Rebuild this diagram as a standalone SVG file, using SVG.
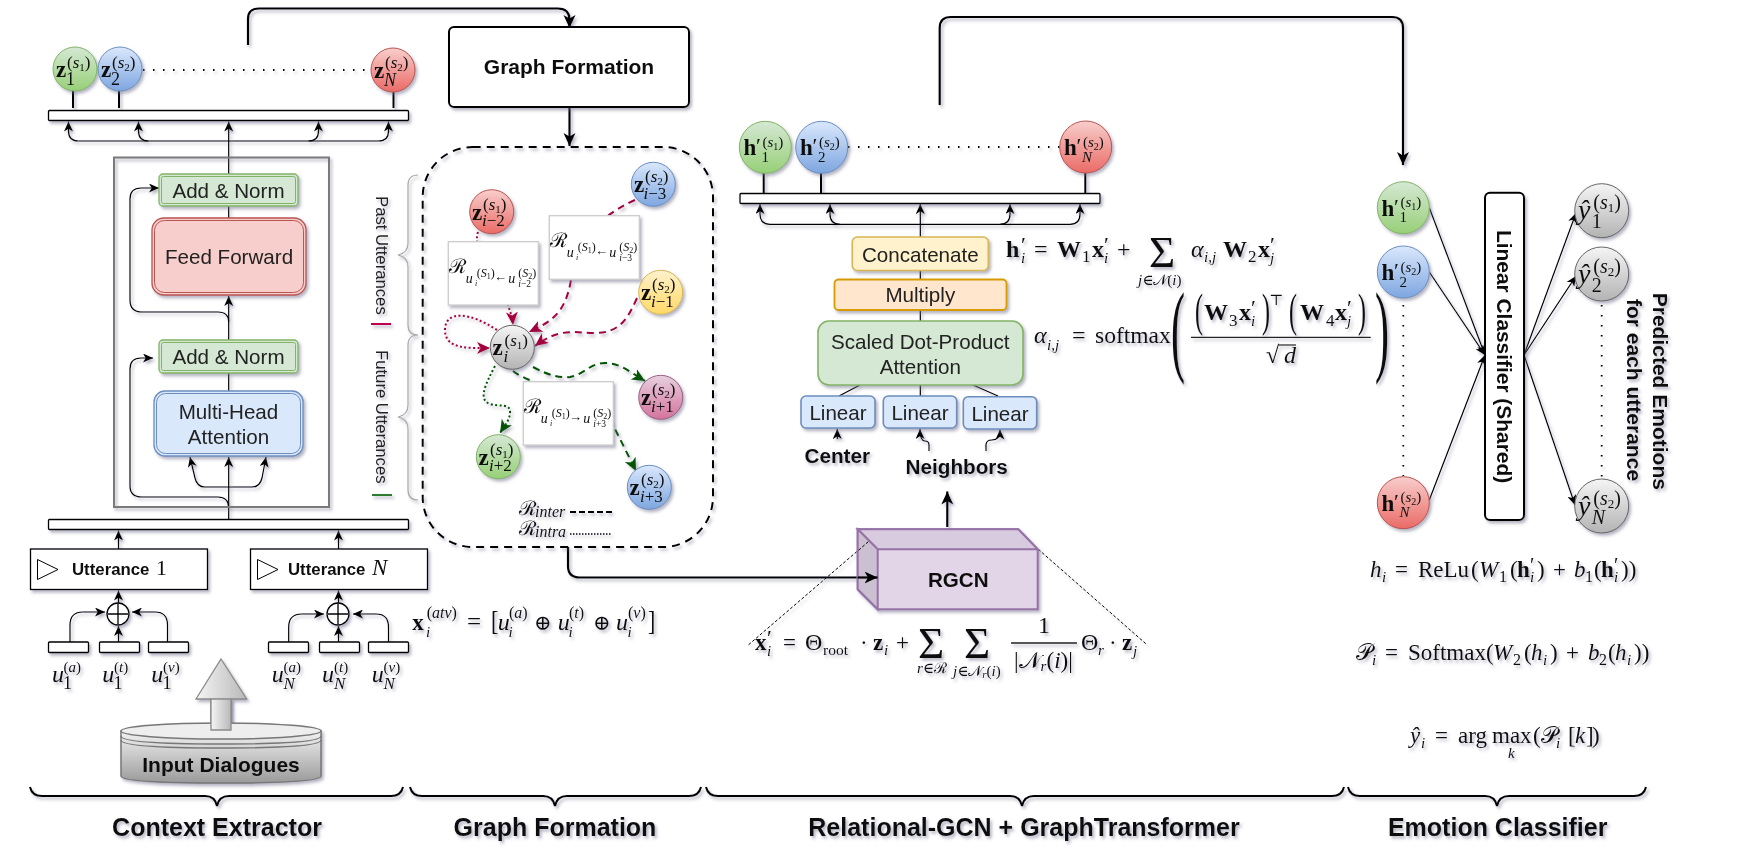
<svg xmlns="http://www.w3.org/2000/svg" width="1752" height="854" viewBox="0 0 1752 854">
<style>
text{font-family:"Liberation Serif","DejaVu Serif",serif;fill:#111}
.s{font-family:"Liberation Sans",Arial,sans-serif;font-size:20.6px;text-anchor:middle;fill:#222}
.sv{font-family:"Liberation Sans",Arial,sans-serif;font-size:16.7px;fill:#222}
.bs{font-family:"Liberation Sans",Arial,sans-serif;font-weight:bold;fill:#111}
.i{font-style:italic}.b{font-weight:bold}
.sh{filter:url(#sh)}
.thin{fill:none;stroke:#000;stroke-width:1.2}
.stub{fill:none;stroke:#000;stroke-width:2}
.fine{fill:none;stroke:#000;stroke-width:1;stroke-dasharray:3 2}
.a{marker-end:url(#ar)}
.thick{fill:none;stroke:#000;stroke-width:2.2;marker-end:url(#arb)}
.bar{fill:#fff;stroke:#000;stroke-width:1.3}
.dot{fill:none;stroke:#000;stroke-width:1.8;stroke-dasharray:1.5 8.5}
.red{fill:none;stroke:#a50040;stroke-width:2;marker-end:url(#arr)}
.grn{fill:none;stroke:#005700;stroke-width:2;marker-end:url(#arg)}
.da{stroke-dasharray:7 5}.do{stroke-dasharray:2 2.4}
.rb{fill:#fff;stroke:#ccc;stroke-width:1.3}
.brace{fill:none;stroke:#000;stroke-width:2}
.gb{fill:none;stroke:#aaa;stroke-width:1.2}
</style>
<defs>
<filter id="sh" filterUnits="userSpaceOnUse" x="0" y="0" width="1752" height="854"><feDropShadow dx="2" dy="2.5" stdDeviation="1.6" flood-color="#6a6a88" flood-opacity=".5"/></filter>
<marker id="ar" markerUnits="userSpaceOnUse" markerWidth="11" markerHeight="9" refX="10" refY="4.500" orient="auto"><path d="M0 0L10 4.500L0 9L2.700 4.500z" fill="#000"/></marker>
<marker id="arb" markerUnits="userSpaceOnUse" markerWidth="14" markerHeight="14" refX="13" refY="6" orient="auto"><path d="M0 0L13 6L0 12L3.500 6z" fill="#000"/></marker>
<marker id="arr" markerUnits="userSpaceOnUse" markerWidth="14" markerHeight="14" refX="13" refY="6" orient="auto"><path d="M0 0L13 6L0 12L3.500 6z" fill="#a50040"/></marker>
<marker id="arg" markerUnits="userSpaceOnUse" markerWidth="14" markerHeight="14" refX="13" refY="6" orient="auto"><path d="M0 0L13 6L0 12L3.500 6z" fill="#005700"/></marker>
<linearGradient id="gG" x1="0" y1="0" x2="0" y2="1"><stop offset="0" stop-color="#d5e8d4"/><stop offset="1" stop-color="#97d077"/></linearGradient>
<linearGradient id="gB" x1="0" y1="0" x2="0" y2="1"><stop offset="0" stop-color="#dae8fc"/><stop offset="1" stop-color="#7ea6e0"/></linearGradient>
<linearGradient id="gR" x1="0" y1="0" x2="0" y2="1"><stop offset="0" stop-color="#f8cecc"/><stop offset="1" stop-color="#ea6b66"/></linearGradient>
<linearGradient id="gY" x1="0" y1="0" x2="0" y2="1"><stop offset="0" stop-color="#fff2cc"/><stop offset="1" stop-color="#ffd966"/></linearGradient>
<linearGradient id="gP" x1="0" y1="0" x2="0" y2="1"><stop offset="0" stop-color="#e6d0de"/><stop offset="1" stop-color="#d5739d"/></linearGradient>
<linearGradient id="gK" x1="0" y1="0" x2="0" y2="1"><stop offset="0" stop-color="#f5f5f5"/><stop offset="1" stop-color="#b3b3b3"/></linearGradient>
<linearGradient id="gA" x1="0" y1="0" x2="1" y2="0"><stop offset="0" stop-color="#f5f5f5"/><stop offset="1" stop-color="#b8b8b8"/></linearGradient>
<linearGradient id="gC" x1="0" y1="0" x2="0" y2="1"><stop offset="0" stop-color="#f2f2f2"/><stop offset="1" stop-color="#9a9a9a"/></linearGradient>
</defs>

<g id="connectors" class="sh">
<path class="thick" d="M248 45V19Q248 8.500 259 8.500H558Q569.500 8.500 569.500 20V28"/>
<path class="thick" d="M569.500 107V146"/>
<path class="thick" d="M568 547V566Q568 577.500 580 577.500H877.500"/>
<path class="thick" d="M947.300 527V491.500"/>
<path class="thick" d="M939.700 105V28Q939.700 17 951 17H1392Q1403 17 1403 28V165"/>
<path class="stub" d="M73 88V108M119 88V108M393.500 92V108"/>
<path class="thin" d="M228.700 206V218"/>
<path class="thin a" d="M78.500 141Q68.500 141 68.500 131V121.500"/>
<path class="thin a" d="M148.500 141Q138.500 141 138.500 131V121.500"/>
<path class="thin a" d="M308.500 141Q318.500 141 318.500 131V121.500"/>
<path class="thin a" d="M78.500 141H378.500Q388.500 141 388.500 131V121.500"/>
<path class="thin a" d="M228.700 174V121.500"/>
<path class="thin a" d="M228.700 340V296"/>
<path class="thin a" d="M228.700 322Q228.700 312 218 312H142Q130 312 130 300V199Q130 188 141 188H159"/>
<path class="thin a" d="M228.700 508Q228.700 497 218 497H142Q130 497 130 486V369Q130 358 141 358H153"/>
<path class="thin" d="M228.700 373V391"/>
<path class="thin a" d="M228.700 519V457"/>
<path class="thin a" d="M228.700 487H205Q197 487 195 478L190 457"/>
<path class="thin a" d="M228.700 487H252Q260 487 262 478L266 457"/>
<path class="thin a" d="M118.500 549V530.500"/>
<path class="thin a" d="M338.500 549V530.500"/>
<path class="thin a" d="M118.500 603V590.500"/>
<path class="thin a" d="M338.500 603V590.500"/>
<path class="thin a" d="M70 642V625Q70 612 83 612H105"/>
<path class="thin a" d="M167.500 642V625Q167.500 612 155 612H132"/>
<path class="thin a" d="M118.500 642V626"/>
<path class="thin a" d="M288.700 642V627Q288.700 614 302 614H324"/>
<path class="thin a" d="M388.500 642V627Q388.500 614 376 614H353"/>
<path class="thin a" d="M338.500 642V626"/>
<path class="stub" d="M763.700 173V194M821 173V194M1085.300 172V194"/>
<path class="thin a" d="M770 224.300Q760 224.300 760 214V204"/>
<path class="thin a" d="M840 224.300Q830 224.300 830 214V204"/>
<path class="thin a" d="M1000 224.300Q1010 224.300 1010 214V204"/>
<path class="thin a" d="M770 224.300H1070Q1080 224.300 1080 214V204"/>
<path class="thin a" d="M920.300 237V204"/>
<path class="thin" d="M920.300 270V280M920.300 310V321M920.300 385V396M860 385L839 396M973 385L998 396"/>
<path class="thin a" d="M837.300 439V429"/>
<path class="thin a" d="M929 451V445Q929 441 925 441Q920 441 920 429"/>
<path class="thin a" d="M986 451V445Q986 440 992 440Q1000 440 1000 429.500"/>
<path class="fine" d="M868.300 541.700L748.300 645M1038.300 549.300L1147.300 645"/>
<path class="thin a" d="M1429.300 207.700L1485 355"/>
<path class="thin a" d="M1429.300 272L1485 355"/>
<path class="thin a" d="M1429.300 500L1485 355"/>
<path class="thin a" d="M1524 355L1576 213"/>
<path class="thin a" d="M1524 355L1576 276"/>
<path class="thin a" d="M1524 355L1575 505"/>
<path class="dot" d="M143 70H371"/>
<path class="dot" d="M848 147H1060"/>
<path class="dot" d="M1403.300 305V476"/>
<path class="dot" d="M1601.700 305V478"/>
<path class="red do" d="M478 232C470 255 510 290 513 325"/>
<path class="red da" d="M635 200C590 220 575 250 571 280C565 315 550 322 529 332"/>
<path class="red da" d="M637 298C628 318 620 333 595 333C575 333 560 327 535 346"/>
<path class="red do" d="M497 330C470 312 445 310 445 330C445 350 470 348 490 348"/>
<path class="grn da" d="M533 367C550 376 560 378 570 377C585 374 590 363 605 363C620 363 630 372 645 381"/>
<path class="grn do" d="M495 366C485 385 478 400 490 404C500 407 510 403 510 412C510 420 505 425 500 433"/>
<path class="grn da" d="M513 371C530 385 600 400 613 425L636 471"/>
<path fill="none" stroke="#000" stroke-width="1.800" stroke-dasharray="6 3" d="M570 512H612"/>
<path fill="none" stroke="#000" stroke-width="1.400" stroke-dasharray="1.500 1.500" d="M570 534H612"/>
</g>

<g id="transformer-frame" class="sh"><rect x="114" y="157.500" width="215" height="349.500" fill="none" stroke="#7a7a7a" stroke-width="2"/></g>

<g id="output-bar" class="sh"><rect class="bar" x="48.500" y="110.500" width="360" height="10" rx="1"/></g>
<g id="input-bar" class="sh"><rect class="bar" x="48.500" y="519.500" width="360" height="10" rx="1"/></g>
<g id="gcn-bar" class="sh"><rect class="bar" x="740" y="193.500" width="360" height="10" rx="1"/></g>

<g id="z1" class="sh"><circle cx="75" cy="69" r="22" fill="url(#gG)" stroke="#82b366"/><text x="56" y="77" font-size="23" class="b">z</text><text x="67" y="68" font-size="17">(<tspan class="i">s</tspan><tspan font-size="11" dy="3">1</tspan><tspan dy="-3">)</tspan></text><text x="66" y="85" font-size="18">1</text></g>
<g id="z2" class="sh"><circle cx="120" cy="69" r="22" fill="url(#gB)" stroke="#6c8ebf"/><text x="101" y="77" font-size="23" class="b">z</text><text x="112" y="68" font-size="17">(<tspan class="i">s</tspan><tspan font-size="11" dy="3">2</tspan><tspan dy="-3">)</tspan></text><text x="111" y="85" font-size="18">2</text></g>
<g id="zN" class="sh"><circle cx="393" cy="70" r="22" fill="url(#gR)" stroke="#b85450"/><text x="374" y="78" font-size="23" class="b">z</text><text x="385" y="68" font-size="17">(<tspan class="i">s</tspan><tspan font-size="11" dy="3">2</tspan><tspan dy="-3">)</tspan></text><text x="384" y="86" font-size="18" class="i">N</text></g>

<g id="add-norm-2" class="sh"><rect x="159" y="174" width="139" height="32" rx="4" fill="#d5e8d4" stroke="#82b366" stroke-width="1.300"/><rect x="161.500" y="176.500" width="134" height="27" rx="2" fill="none" stroke="#82b366"/><text class="s" x="228.500" y="198">Add &amp; Norm</text></g>
<g id="feed-forward" class="sh"><rect x="152" y="218" width="154" height="77" rx="12" fill="#f8cecc" stroke="#b85450" stroke-width="1.300"/><rect x="154.500" y="220.500" width="149" height="72" rx="10" fill="none" stroke="#b85450"/><text class="s" x="229" y="264">Feed Forward</text></g>
<g id="add-norm-1" class="sh"><rect x="159" y="340" width="139" height="33" rx="4" fill="#d5e8d4" stroke="#82b366" stroke-width="1.300"/><rect x="161.500" y="342.500" width="134" height="28" rx="2" fill="none" stroke="#82b366"/><text class="s" x="228.500" y="364">Add &amp; Norm</text></g>
<g id="multi-head" class="sh"><rect x="154" y="391" width="149" height="65" rx="11" fill="#dae8fc" stroke="#6c8ebf" stroke-width="1.300"/><rect x="156.500" y="393.500" width="144" height="60" rx="9" fill="none" stroke="#6c8ebf"/><text class="s" x="228.500" y="419">Multi-Head</text><text class="s" x="228.500" y="444">Attention</text></g>

<g id="utterance-1" class="sh"><rect x="30.500" y="549" width="177" height="40.500" fill="#fff" stroke="#000" stroke-width="1.300"/><path d="M37.500 559.500V579.500L58 569.500z" fill="#fff" stroke="#000"/><text class="bs" x="72" y="575" font-size="16.800">Utterance</text><text x="156" y="575" font-size="22">1</text></g>
<g id="utterance-N" class="sh"><rect x="250.500" y="549" width="177" height="40.500" fill="#fff" stroke="#000" stroke-width="1.300"/><path d="M257.500 559.500V579.500L278 569.500z" fill="#fff" stroke="#000"/><text class="bs" x="288" y="575" font-size="16.800">Utterance</text><text x="372" y="575" font-size="23" class="i">N</text></g>
<g id="oplus-1" class="sh"><circle cx="118" cy="614" r="11" fill="#fff" stroke="#000" stroke-width="1.300"/><path d="M118 604V624M108 614H128" stroke="#000" stroke-width="1.300"/></g>
<g id="oplus-N" class="sh"><circle cx="338" cy="614" r="11" fill="#fff" stroke="#000" stroke-width="1.300"/><path d="M338 604V624M328 614H348" stroke="#000" stroke-width="1.300"/></g>

<g id="u-inputs-1" class="sh">
<rect class="bar" x="48.500" y="642" width="40" height="10.500" rx="1"/><rect class="bar" x="99.500" y="642" width="40" height="10.500" rx="1"/><rect class="bar" x="148.500" y="642" width="40" height="10.500" rx="1"/>
<text x="52" y="682" font-size="24" class="i">u</text><text x="63.500" y="671.500" font-size="15">(<tspan class="i">a</tspan>)</text><text x="63" y="689" font-size="18">1</text>
<text x="102.300" y="682" font-size="24" class="i">u</text><text x="114" y="671.500" font-size="15">(<tspan class="i">t</tspan>)</text><text x="113.500" y="689" font-size="18">1</text>
<text x="151.300" y="682" font-size="24" class="i">u</text><text x="163" y="671.500" font-size="15">(<tspan class="i">v</tspan>)</text><text x="162.500" y="689" font-size="18">1</text>
</g>
<g id="u-inputs-N" class="sh">
<rect class="bar" x="268.500" y="642" width="40" height="10.500" rx="1"/><rect class="bar" x="319.500" y="642" width="40" height="10.500" rx="1"/><rect class="bar" x="368.500" y="642" width="40" height="10.500" rx="1"/>
<text x="271.700" y="682" font-size="24" class="i">u</text><text x="283.500" y="671.500" font-size="15">(<tspan class="i">a</tspan>)</text><text x="283.500" y="689" font-size="17" class="i">N</text>
<text x="322" y="682" font-size="24" class="i">u</text><text x="334" y="671.500" font-size="15">(<tspan class="i">t</tspan>)</text><text x="334" y="689" font-size="17" class="i">N</text>
<text x="371.700" y="682" font-size="24" class="i">u</text><text x="383.500" y="671.500" font-size="15">(<tspan class="i">v</tspan>)</text><text x="383.500" y="689" font-size="17" class="i">N</text>
</g>
<g id="eq-concat" class="sh">
<text x="412.300" y="630" font-size="23" class="b">x</text><text x="426.700" y="618.300" font-size="16">(<tspan class="i">atv</tspan>)</text><text x="426" y="637" font-size="15" class="i">i</text>
<text x="467" y="630" font-size="25">=</text><text transform="translate(491,630) scale(1,1.250)" font-size="22">[</text><text x="497.700" y="630" font-size="24" class="i">u</text><text x="509" y="618.300" font-size="16">(<tspan class="i">a</tspan>)</text><text x="508.500" y="637" font-size="15" class="i">i</text>
<text x="534" y="630" font-size="21">⊕</text><text x="557.700" y="630" font-size="24" class="i">u</text><text x="569" y="618.300" font-size="16">(<tspan class="i">t</tspan>)</text><text x="568.500" y="637" font-size="15" class="i">i</text>
<text x="593" y="630" font-size="21">⊕</text><text x="616" y="630" font-size="24" class="i">u</text><text x="628" y="618.300" font-size="16">(<tspan class="i">v</tspan>)</text><text x="627.500" y="637" font-size="15" class="i">i</text>
<text transform="translate(648,630) scale(1,1.250)" font-size="22">]</text>
</g>

<g id="input-arrow" class="sh"><path d="M221 659L246.700 699H231V730H211V699H196z" fill="url(#gA)" stroke="#8a8a8a" stroke-width="1.300"/></g>
<g id="input-dialogues" class="sh">
<path d="M121 731V776Q121 783 221 783Q321 783 321 776V731z" fill="url(#gC)" stroke="#777" stroke-width="1.500"/>
<path d="M121 736Q121 744 221 744Q321 744 321 736M121 740Q121 748 221 748Q321 748 321 740" fill="none" stroke="#777" stroke-width="1.500"/>
<ellipse cx="221" cy="731" rx="100" ry="8" fill="#eee" stroke="#777" stroke-width="1.500"/>
<path d="M211 699V730H231V699z" fill="url(#gA)" stroke="#8a8a8a" stroke-width="1.300"/>
<text class="bs" x="221" y="771.500" font-size="21" text-anchor="middle">Input Dialogues</text>
</g>

<g id="graph-formation" class="sh"><rect x="449" y="27" width="240" height="80" rx="5" fill="#fff" stroke="#000" stroke-width="2"/><text class="bs" x="569" y="74" font-size="21" text-anchor="middle">Graph Formation</text></g>
<g id="graph-frame" class="sh"><rect x="422.700" y="147" width="290.300" height="400" rx="50" fill="none" stroke="#000" stroke-width="2" stroke-dasharray="8 6"/></g>
<g id="past-future" class="sh">
<path class="gb" d="M418 175Q408 175 408 185V243Q408 253 398 255Q408 257 408 267V325Q408 335 418 335Q408 335 408 345V405Q408 415 398 417Q408 419 408 429V490Q408 500 418 500"/>
<text class="sv" transform="translate(375.500,196) rotate(90)">Past Utterances</text>
<text class="sv" transform="translate(375.500,350) rotate(90)">Future Utterances</text>
<path d="M371 324H391" stroke="#c0004d" stroke-width="2"/><path d="M372 495H392" stroke="#2d7d2d" stroke-width="2"/>
</g>

<g id="z-i-3" class="sh"><circle cx="653.300" cy="184.300" r="22" fill="url(#gB)" stroke="#6c8ebf"/><text x="634" y="192" font-size="23" class="b">z</text><text x="645" y="182" font-size="17">(<tspan class="i">s</tspan><tspan font-size="11" dy="3">2</tspan><tspan dy="-3">)</tspan></text><text x="643.500" y="198.500" font-size="17"><tspan class="i">i</tspan>−3</text></g>
<g id="z-i-2" class="sh"><circle cx="491.700" cy="211.700" r="22" fill="url(#gR)" stroke="#b85450"/><text x="472" y="219.500" font-size="23" class="b">z</text><text x="483" y="209.500" font-size="17">(<tspan class="i">s</tspan><tspan font-size="11" dy="3">1</tspan><tspan dy="-3">)</tspan></text><text x="482" y="226" font-size="17"><tspan class="i">i</tspan>−2</text></g>
<g id="z-i-1" class="sh"><circle cx="660.700" cy="292.300" r="22" fill="url(#gY)" stroke="#d6b656"/><text x="641" y="300" font-size="23" class="b">z</text><text x="652" y="290" font-size="17">(<tspan class="i">s</tspan><tspan font-size="11" dy="3">2</tspan><tspan dy="-3">)</tspan></text><text x="651" y="306.500" font-size="17"><tspan class="i">i</tspan>−1</text></g>
<g id="z-i" class="sh"><circle cx="512.300" cy="347.300" r="22" fill="url(#gK)" stroke="#666"/><text x="492.500" y="355" font-size="23" class="b">z</text><text x="504.500" y="346" font-size="17">(<tspan class="i">s</tspan><tspan font-size="11" dy="3">1</tspan><tspan dy="-3">)</tspan></text><text x="503.500" y="361.500" font-size="17" class="i">i</text></g>
<g id="z-i+1" class="sh"><circle cx="660.700" cy="397.300" r="22" fill="url(#gP)" stroke="#996185"/><text x="641" y="405" font-size="23" class="b">z</text><text x="652" y="395" font-size="17">(<tspan class="i">s</tspan><tspan font-size="11" dy="3">2</tspan><tspan dy="-3">)</tspan></text><text x="651" y="411.500" font-size="17"><tspan class="i">i</tspan>+1</text></g>
<g id="z-i+2" class="sh"><circle cx="498.300" cy="456.700" r="22" fill="url(#gG)" stroke="#82b366"/><text x="478.500" y="464.500" font-size="23" class="b">z</text><text x="490" y="454.500" font-size="17">(<tspan class="i">s</tspan><tspan font-size="11" dy="3">1</tspan><tspan dy="-3">)</tspan></text><text x="489" y="471" font-size="17"><tspan class="i">i</tspan>+2</text></g>
<g id="z-i+3" class="sh"><circle cx="649.300" cy="487.300" r="22" fill="url(#gB)" stroke="#6c8ebf"/><text x="629.500" y="495" font-size="23" class="b">z</text><text x="641" y="485" font-size="17">(<tspan class="i">s</tspan><tspan font-size="11" dy="3">2</tspan><tspan dy="-3">)</tspan></text><text x="640" y="501.500" font-size="17"><tspan class="i">i</tspan>+3</text></g>

<g id="rel-1" class="sh"><rect class="rb" x="448.300" y="241.700" width="90" height="63.300"/>
<text x="449.300" y="273.300" font-size="20">ℛ</text><text x="465.700" y="283" font-size="14" class="i">u</text><text x="476.700" y="277" font-size="12">(<tspan class="i">S</tspan><tspan font-size="8" dy="2">1</tspan><tspan dy="-2">)</tspan></text><text x="475" y="285.500" font-size="8" class="i">i</text><text x="494" y="281" font-size="13">←</text><text x="508.300" y="283" font-size="14" class="i">u</text><text x="518.300" y="277" font-size="12">(<tspan class="i">S</tspan><tspan font-size="8" dy="2">2</tspan><tspan dy="-2">)</tspan></text><text x="518.300" y="287" font-size="9.500"><tspan class="i">i</tspan>−2</text></g>
<g id="rel-2" class="sh"><rect class="rb" x="549.300" y="215.700" width="90" height="63.600"/>
<text x="550.300" y="247" font-size="20">ℛ</text><text x="566.700" y="257" font-size="14" class="i">u</text><text x="577.700" y="251" font-size="12">(<tspan class="i">S</tspan><tspan font-size="8" dy="2">1</tspan><tspan dy="-2">)</tspan></text><text x="576" y="259.500" font-size="8" class="i">i</text><text x="595" y="255" font-size="13">←</text><text x="609.300" y="257" font-size="14" class="i">u</text><text x="619.300" y="251" font-size="12">(<tspan class="i">S</tspan><tspan font-size="8" dy="2">2</tspan><tspan dy="-2">)</tspan></text><text x="619.300" y="261" font-size="9.500"><tspan class="i">i</tspan>−3</text></g>
<g id="rel-3" class="sh"><rect class="rb" x="523.300" y="381.700" width="90" height="63.300"/>
<text x="524.300" y="413" font-size="20">ℛ</text><text x="540.700" y="423" font-size="14" class="i">u</text><text x="551.700" y="417" font-size="12">(<tspan class="i">S</tspan><tspan font-size="8" dy="2">1</tspan><tspan dy="-2">)</tspan></text><text x="550" y="425.500" font-size="8" class="i">i</text><text x="569" y="421" font-size="13">→</text><text x="583.300" y="423" font-size="14" class="i">u</text><text x="593.300" y="417" font-size="12">(<tspan class="i">S</tspan><tspan font-size="8" dy="2">2</tspan><tspan dy="-2">)</tspan></text><text x="593.300" y="427" font-size="9.500"><tspan class="i">i</tspan>+3</text></g>
<g id="legend" class="sh"><text x="519" y="515" font-size="20">ℛ</text><text x="535" y="517" font-size="16" class="i">inter</text><text x="519" y="535" font-size="20">ℛ</text><text x="535" y="537" font-size="16" class="i">intra</text></g>

<g id="h1" class="sh"><circle cx="765.300" cy="147.300" r="26" fill="url(#gG)" stroke="#82b366"/><text x="743.500" y="155" font-size="23" class="b">h</text><text x="756" y="153" font-size="22">′</text><text x="762.500" y="146.700" font-size="15">(<tspan class="i">s</tspan><tspan font-size="10" dy="3">1</tspan><tspan dy="-3">)</tspan></text><text x="761.500" y="161.700" font-size="15">1</text></g>
<g id="h2" class="sh"><circle cx="821.700" cy="147.300" r="26" fill="url(#gB)" stroke="#6c8ebf"/><text x="800" y="155" font-size="23" class="b">h</text><text x="812.500" y="153" font-size="22">′</text><text x="819" y="146.700" font-size="15">(<tspan class="i">s</tspan><tspan font-size="10" dy="3">2</tspan><tspan dy="-3">)</tspan></text><text x="818" y="161.700" font-size="15">2</text></g>
<g id="hN" class="sh"><circle cx="1085.700" cy="147" r="26" fill="url(#gR)" stroke="#b85450"/><text x="1064" y="155" font-size="23" class="b">h</text><text x="1076.500" y="153" font-size="22">′</text><text x="1083" y="146.700" font-size="15">(<tspan class="i">s</tspan><tspan font-size="10" dy="3">2</tspan><tspan dy="-3">)</tspan></text><text x="1082" y="161.700" font-size="15" class="i">N</text></g>

<g id="concatenate" class="sh"><rect x="852.300" y="237" width="136" height="33.500" rx="5" fill="#fff2cc" stroke="#d6b656" stroke-width="1.600"/><text class="s" x="920.300" y="262">Concatenate</text></g>
<g id="multiply" class="sh"><rect x="834.500" y="279.500" width="172" height="30.500" rx="4" fill="#ffe6cc" stroke="#d79b00" stroke-width="1.800"/><text class="s" x="920.300" y="302">Multiply</text></g>
<g id="scaled-dot" class="sh"><rect x="818" y="321" width="205" height="64" rx="11" fill="#d5e8d4" stroke="#82b366" stroke-width="1.600"/><text class="s" x="920.300" y="349">Scaled Dot-Product</text><text class="s" x="920.300" y="374">Attention</text></g>
<g id="linear-1" class="sh"><rect x="801" y="396" width="74" height="32" rx="5" fill="#dae8fc" stroke="#6c8ebf" stroke-width="1.600"/><text class="s" x="838" y="420">Linear</text></g>
<g id="linear-2" class="sh"><rect x="883.300" y="396" width="73.400" height="32" rx="5" fill="#dae8fc" stroke="#6c8ebf" stroke-width="1.600"/><text class="s" x="920" y="420">Linear</text></g>
<g id="linear-3" class="sh"><rect x="963.300" y="396.700" width="73.400" height="32.300" rx="5" fill="#dae8fc" stroke="#6c8ebf" stroke-width="1.600"/><text class="s" x="1000" y="421">Linear</text></g>
<g id="center" class="sh"><text class="bs" x="837.300" y="462.500" font-size="20.700" text-anchor="middle">Center</text></g>
<g id="neighbors" class="sh"><text class="bs" x="956.700" y="473.500" font-size="20.700" text-anchor="middle">Neighbors</text></g>

<g id="rgcn" class="sh">
<path d="M857.700 529.300H1018.300L1037.700 549.300V609.300H877.700L857.700 589.300z" fill="#e1d5e7" stroke="#9673a6" stroke-width="2"/>
<path d="M857.700 529.300H1018.300L1037.700 549.300H877.700z" fill="#d8cbdf" stroke="#9673a6" stroke-width="2"/>
<path d="M857.700 529.300L877.700 549.300V609.300L857.700 589.300z" fill="#cbbfd2" stroke="#9673a6" stroke-width="2"/>
<path class="thick" d="M857.700 577.500H877.500"/>
<path class="fine" d="M868.300 541.700L857.700 551"/>
<text class="bs" x="958.300" y="586.700" font-size="20.600" text-anchor="middle">RGCN</text>
</g>

<g id="eq-h" class="sh" font-size="24">
<text x="1006" y="256.700" class="b">h</text><text x="1021" y="252" font-size="22">′</text><text x="1021" y="263" font-size="15" class="i">i</text>
<text x="1034" y="256.700">=</text><text x="1057" y="256.700" class="b">W</text><text x="1082" y="262" font-size="17">1</text><text x="1092" y="256.700" class="b">x</text><text x="1104" y="252" font-size="22">′</text><text x="1104" y="263" font-size="15" class="i">i</text>
<text x="1117" y="256.700">+</text><text x="1149" y="267" font-size="45">Σ</text><text x="1138" y="285" font-size="15"><tspan class="i">j</tspan>∈𝒩(<tspan class="i">i</tspan>)</text>
<text x="1191" y="256.700" class="i">α</text><text x="1204" y="262" font-size="15" class="i">i,j</text><text x="1223" y="256.700" class="b">W</text><text x="1248" y="262" font-size="17">2</text><text x="1258" y="256.700" class="b">x</text><text x="1270" y="252" font-size="22">′</text><text x="1270" y="263" font-size="15" class="i">j</text>
</g>
<g id="eq-alpha" class="sh" font-size="24">
<text x="1034" y="343.300" class="i">α</text><text x="1047" y="350" font-size="15" class="i">i,j</text><text x="1072" y="343.300">=</text><text x="1095" y="343.300" font-size="23.500">softmax</text>
<text font-size="30" transform="translate(1171,363) scale(1.4,3.4)">(</text><text font-size="30" transform="translate(1375,363) scale(1.4,3.4)">)</text>
<text transform="translate(1195,326) scale(1,1.9)">(</text><text x="1204" y="320" class="b">W</text><text x="1229" y="326" font-size="17">3</text><text x="1239" y="320" class="b">x</text><text x="1251" y="315" font-size="22">′</text><text x="1251" y="326" font-size="15" class="i">i</text><text transform="translate(1262,326) scale(1,1.9)">)</text><text x="1269" y="305" font-size="15">⊤</text>
<text transform="translate(1289,326) scale(1,1.9)">(</text><text x="1300" y="320" class="b">W</text><text x="1326" y="326" font-size="17">4</text><text x="1335" y="320" class="b">x</text><text x="1347" y="315" font-size="22">′</text><text x="1347" y="326" font-size="15" class="i">j</text><text transform="translate(1358,326) scale(1,1.9)">)</text>
<path d="M1191 337.300H1370.700" stroke="#222" stroke-width="1.300"/>
<text x="1266" y="363">√</text><path d="M1279 345H1296" stroke="#222" stroke-width="1.200"/><text x="1284" y="363" class="i">d</text>
</g>
<g id="eq-rgcn" class="sh" font-size="23">
<text x="755" y="650" class="b">x</text><text x="767" y="645" font-size="22">′</text><text x="767" y="656" font-size="15" class="i">i</text><text x="783" y="650">=</text><text x="805" y="650" font-size="24">Θ</text><text x="823" y="655" font-size="15.500">root</text><text x="860" y="650">·</text><text x="873" y="650" class="b">z</text><text x="884" y="655" font-size="15" class="i">i</text><text x="896" y="650">+</text>
<text x="918" y="658" font-size="45">Σ</text><text x="917" y="673" font-size="15"><tspan class="i">r</tspan>∈ℛ</text><text x="964" y="658" font-size="45">Σ</text><text x="953" y="676" font-size="15"><tspan class="i">j</tspan>∈𝒩<tspan class="i" font-size="11" dy="2">r</tspan><tspan dy="-2">(</tspan><tspan class="i">i</tspan>)</text>
<text x="1038" y="633" font-size="24">1</text><path d="M1011 643H1077" stroke="#222" stroke-width="1.300"/><text x="1014" y="668" font-size="23">|𝒩<tspan class="i" font-size="15" dy="3">r</tspan><tspan dy="-3">(</tspan><tspan class="i">i</tspan>)|</text>
<text x="1081" y="650" font-size="24">Θ</text><text x="1098" y="655" font-size="15" class="i">r</text><text x="1109" y="650">·</text><text x="1122" y="650" class="b">z</text><text x="1133" y="656" font-size="15" class="i">j</text>
</g>

<g id="ch1" class="sh"><circle cx="1403.300" cy="207.700" r="26" fill="url(#gG)" stroke="#82b366"/><text x="1381.500" y="215.500" font-size="23" class="b">h</text><text x="1394" y="213.500" font-size="22">′</text><text x="1400.500" y="207" font-size="15">(<tspan class="i">s</tspan><tspan font-size="10" dy="3">1</tspan><tspan dy="-3">)</tspan></text><text x="1399.500" y="222" font-size="15">1</text></g>
<g id="ch2" class="sh"><circle cx="1403.300" cy="272" r="26" fill="url(#gB)" stroke="#6c8ebf"/><text x="1381.500" y="280" font-size="23" class="b">h</text><text x="1394" y="278" font-size="22">′</text><text x="1400.500" y="271.500" font-size="15">(<tspan class="i">s</tspan><tspan font-size="10" dy="3">2</tspan><tspan dy="-3">)</tspan></text><text x="1399.500" y="286.500" font-size="15">2</text></g>
<g id="chN" class="sh"><circle cx="1403.300" cy="502.700" r="26" fill="url(#gR)" stroke="#b85450"/><text x="1381.500" y="510.500" font-size="23" class="b">h</text><text x="1394" y="508.500" font-size="22">′</text><text x="1400.500" y="502" font-size="15">(<tspan class="i">s</tspan><tspan font-size="10" dy="3">2</tspan><tspan dy="-3">)</tspan></text><text x="1399.500" y="517" font-size="15" class="i">N</text></g>
<g id="linear-classifier" class="sh"><rect x="1485" y="192.700" width="39" height="327.300" rx="5" fill="#fff" stroke="#000" stroke-width="2"/><text class="bs" font-size="20.900" transform="translate(1496.500,230) rotate(90)">Linear Classifier (Shared)</text></g>
<g id="y1" class="sh"><circle cx="1601.700" cy="210.700" r="27" fill="url(#gK)" stroke="#666"/><text x="1578" y="219.300" font-size="28" class="i">ŷ</text><text x="1593.300" y="209.300" font-size="20">(<tspan class="i">s</tspan><tspan font-size="13" dy="3">1</tspan><tspan dy="-3">)</tspan></text><text x="1591.700" y="228.300" font-size="20">1</text></g>
<g id="y2" class="sh"><circle cx="1601.700" cy="274" r="27" fill="url(#gK)" stroke="#666"/><text x="1578" y="282.500" font-size="28" class="i">ŷ</text><text x="1593.300" y="272.500" font-size="20">(<tspan class="i">s</tspan><tspan font-size="13" dy="3">2</tspan><tspan dy="-3">)</tspan></text><text x="1591.700" y="291.500" font-size="20">2</text></g>
<g id="yN" class="sh"><circle cx="1601.700" cy="506" r="27" fill="url(#gK)" stroke="#666"/><text x="1578" y="514.500" font-size="28" class="i">ŷ</text><text x="1593.300" y="504.500" font-size="20">(<tspan class="i">s</tspan><tspan font-size="13" dy="3">2</tspan><tspan dy="-3">)</tspan></text><text x="1591.700" y="523.500" font-size="20" class="i">N</text></g>
<g id="predicted-label" class="sh"><text class="bs" font-size="21" transform="translate(1652.700,292.700) rotate(90)">Predicted Emotions</text><text class="bs" font-size="21" transform="translate(1627,299) rotate(90)">for each utterance</text></g>

<g id="eq-hi" class="sh" font-size="23">
<text x="1370" y="576.700" class="i">h</text><text x="1382" y="582" font-size="15" class="i">i</text><text x="1395" y="576.700">=</text><text x="1418" y="576.700">ReLu</text><text x="1471" y="576.700">(</text><text x="1479" y="576.700" class="i">W</text><text x="1499" y="582" font-size="16">1</text><text x="1510" y="576.700">(</text><text x="1517" y="576.700" class="b">h</text><text x="1530" y="572" font-size="20">′</text><text x="1530" y="582" font-size="15" class="i">i</text><text x="1537" y="576.700">)</text><text x="1553" y="576.700">+</text><text x="1574" y="576.700" class="i">b</text><text x="1585" y="582" font-size="16">1</text><text x="1594" y="576.700">(</text><text x="1601" y="576.700" class="b">h</text><text x="1614" y="572" font-size="20">′</text><text x="1614" y="582" font-size="15" class="i">i</text><text x="1621" y="576.700">))</text>
</g>
<g id="eq-pi" class="sh" font-size="23">
<text x="1356" y="660">𝒫</text><text x="1372" y="665" font-size="15" class="i">i</text><text x="1385" y="660">=</text><text x="1408" y="660">Softmax</text><text x="1486" y="660">(</text><text x="1493" y="660" class="i">W</text><text x="1513" y="665" font-size="16">2</text><text x="1524" y="660">(</text><text x="1531" y="660" class="i">h</text><text x="1543" y="665" font-size="15" class="i">i</text><text x="1550" y="660">)</text><text x="1566" y="660">+</text><text x="1588" y="660" class="i">b</text><text x="1599" y="665" font-size="16">2</text><text x="1608" y="660">(</text><text x="1615" y="660" class="i">h</text><text x="1627" y="665" font-size="15" class="i">i</text><text x="1634" y="660">))</text>
</g>
<g id="eq-y" class="sh" font-size="23">
<text x="1410" y="743" class="i">ŷ</text><text x="1421" y="748" font-size="15" class="i">i</text><text x="1435" y="743">=</text><text x="1458" y="743">arg</text><text x="1492" y="743">max</text><text x="1508" y="758" font-size="15" class="i">k</text><text x="1533" y="743">(</text><text x="1541" y="743">𝒫</text><text x="1556" y="748" font-size="15" class="i">i</text><text x="1568" y="743">[</text><text x="1575" y="743" class="i">k</text><text x="1586" y="743">]</text><text x="1592" y="743">)</text>
</g>

<g id="section-context" class="sh"><path class="brace" d="M30 787Q32 796 42 796H205Q215 796 217 806Q219 796 229 796H391Q401 796 403 787"/><text class="bs" x="217" y="836" font-size="25" text-anchor="middle">Context Extractor</text></g>
<g id="section-graph" class="sh"><path class="brace" d="M410 787Q412 796 422 796H543Q553 796 555 806Q557 796 567 796H689Q699 796 701 787"/><text class="bs" x="555" y="836" font-size="25" text-anchor="middle">Graph Formation</text></g>
<g id="section-gcn" class="sh"><path class="brace" d="M706 787Q708 796 718 796H1010Q1020 796 1022 806Q1024 796 1034 796H1332Q1342 796 1344 787"/><text class="bs" x="1024" y="836" font-size="25" text-anchor="middle">Relational-GCN + GraphTransformer</text></g>
<g id="section-classifier" class="sh"><path class="brace" d="M1348 787Q1350 796 1360 796H1485Q1495 796 1497 806Q1499 796 1509 796H1634Q1644 796 1646 787"/><text class="bs" x="1497.700" y="836" font-size="25" text-anchor="middle">Emotion Classifier</text></g>
</svg>
